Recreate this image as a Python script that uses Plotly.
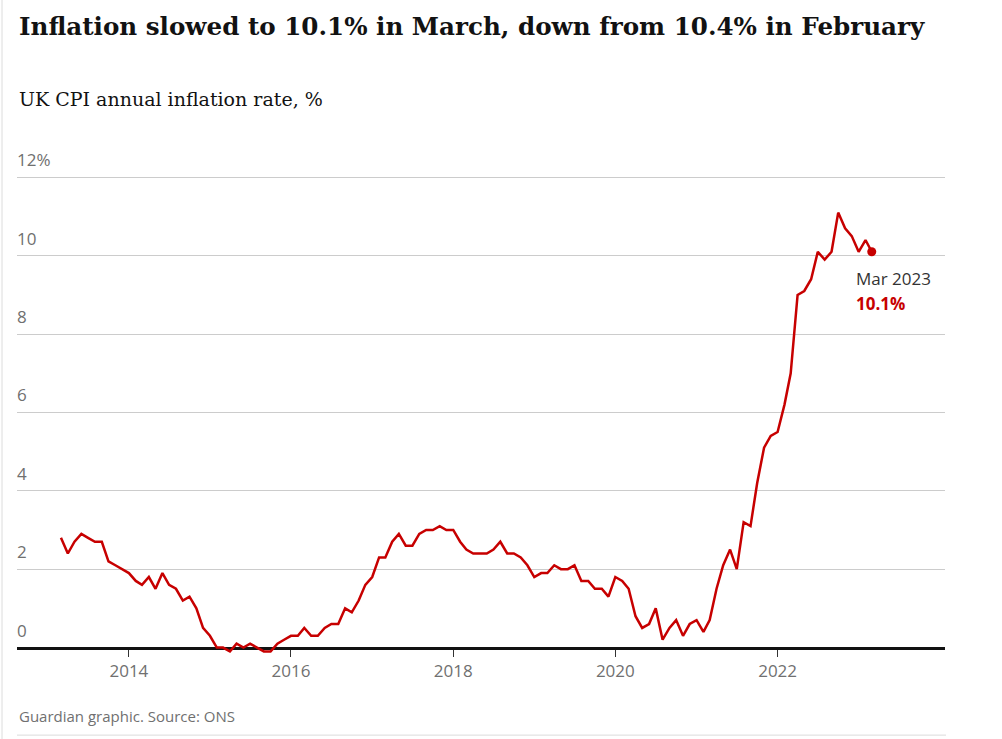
import pandas as pd
import plotly.graph_objects as go

# Monthly UK CPI annual rate, Mar 2013 - Mar 2023
start_month = "2013-03-01"
cpi = [
    2.8, 2.4, 2.7, 2.9, 2.8, 2.7, 2.7, 2.2, 2.1, 2.0,            # 2013 Mar-Dec
    1.9, 1.7, 1.6, 1.8, 1.5, 1.9, 1.6, 1.5, 1.2, 1.3, 1.0, 0.5,  # 2014
    0.3, 0.0, 0.0, -0.1, 0.1, 0.0, 0.1, 0.0, -0.1, -0.1, 0.1, 0.2,  # 2015
    0.3, 0.3, 0.5, 0.3, 0.3, 0.5, 0.6, 0.6, 1.0, 0.9, 1.2, 1.6,  # 2016
    1.8, 2.3, 2.3, 2.7, 2.9, 2.6, 2.6, 2.9, 3.0, 3.0, 3.1, 3.0,  # 2017
    3.0, 2.7, 2.5, 2.4, 2.4, 2.4, 2.5, 2.7, 2.4, 2.4, 2.3, 2.1,  # 2018
    1.8, 1.9, 1.9, 2.1, 2.0, 2.0, 2.1, 1.7, 1.7, 1.5, 1.5, 1.3,  # 2019
    1.8, 1.7, 1.5, 0.8, 0.5, 0.6, 1.0, 0.2, 0.5, 0.7, 0.3, 0.6,  # 2020
    0.7, 0.4, 0.7, 1.5, 2.1, 2.5, 2.0, 3.2, 3.1, 4.2, 5.1, 5.4,  # 2021
    5.5, 6.2, 7.0, 9.0, 9.1, 9.4, 10.1, 9.9, 10.1, 11.1, 10.7, 10.5,  # 2022
    10.1, 10.4, 10.1,                                            # 2023 Jan-Mar
]
dates = pd.date_range(start_month, periods=len(cpi), freq="MS")

y_tickvals = [0, 2, 4, 6, 8, 10, 12]
y_ticktext = ["0", "2", "4", "6", "8", "10", "12%"]
x_tickvals = ["2014-01-01", "2016-01-01", "2018-01-01", "2020-01-01", "2022-01-01"]
x_ticktext = ["2014", "2016", "2018", "2020", "2022"]

title = "Inflation slowed to 10.1% in March, down from 10.4% in February"
subtitle = "UK CPI annual inflation rate, %"
source = "Guardian graphic. Source: ONS"
last_label = "Mar 2023"
last_value = "10.1%"

RED = "#c70000"
GREY = "#707070"
DARK = "#121212"
SANS = "Open Sans"
SERIF_T = "DejaVu Serif"
SERIF = "DejaVu Serif"

W, H = 1002, 739
PX_PER_UNIT = 39.15
ZERO_PX = 647.5
ymax = 12.8
ymin = -0.42
T = ZERO_PX - ymax * PX_PER_UNIT
Bpx = ZERO_PX - ymin * PX_PER_UNIT
L, R = 17, 57
B = H - Bpx
plot_h = Bpx - T
plot_w = W - L - R


def py(p):
    return (Bpx - p) / plot_h


def px(p):
    return (p - L) / plot_w


fig = go.Figure()
fig.add_trace(go.Scatter(
    x=dates, y=cpi, mode="lines",
    line=dict(color=RED, width=2.5),
    hoverinfo="skip", showlegend=False,
))
fig.add_trace(go.Scatter(
    x=[dates[-1]], y=[cpi[-1]], mode="markers",
    marker=dict(color=RED, size=9),
    hoverinfo="skip", showlegend=False,
))

fig.update_layout(
    width=W, height=H,
    margin=dict(l=L, r=R, t=T, b=B, pad=0, autoexpand=False),
    paper_bgcolor="white", plot_bgcolor="white",
    xaxis=dict(
        type="date",
        range=["2012-08-15", "2024-01-25"],
        anchor="free",
        position=(0 - ymin) / (ymax - ymin),
        showline=True, linecolor=DARK, linewidth=3,
        showgrid=False, zeroline=False,
        tickvals=x_tickvals, ticktext=x_ticktext,
        ticks="outside", ticklen=7, tickwidth=1, tickcolor="#333333",
        tickfont=dict(family=SANS, size=17, color=GREY),
        layer="below traces",
    ),
    yaxis=dict(
        range=[ymin, ymax],
        tickvals=y_tickvals, ticktext=y_ticktext,
        showgrid=True, gridcolor="#cccccc", gridwidth=1,
        zeroline=False, showline=False, ticks="",
        ticklabelposition="inside top",
        ticklabelshift=-5, ticklabelstandoff=-3,
        tickfont=dict(family=SANS, size=17, color=GREY),
        layer="below traces",
    ),
)

annotations = [
    dict(text=f"<b>{title}</b>", x=px(17), y=py(27), xref="paper", yref="paper",
         xanchor="left", yanchor="middle", showarrow=False,
         font=dict(family=SERIF_T, size=24.6, color=DARK)),
    dict(text=subtitle, x=px(17), y=py(99), xref="paper", yref="paper",
         xanchor="left", yanchor="middle", showarrow=False,
         font=dict(family=SERIF, size=19, color=DARK)),
    dict(text=source, x=px(17), y=py(716), xref="paper", yref="paper",
         xanchor="left", yanchor="middle", showarrow=False,
         font=dict(family=SANS, size=15, color=GREY)),
    dict(text=last_label, x=dates[-1], y=cpi[-1], xref="x", yref="y",
         xanchor="left", yanchor="middle", xshift=-18, yshift=-27, showarrow=False,
         font=dict(family=SANS, size=17, color="#333333")),
    dict(text=f"<b>{last_value}</b>", x=dates[-1], y=cpi[-1], xref="x", yref="y",
         xanchor="left", yanchor="middle", xshift=-18, yshift=-52, showarrow=False,
         font=dict(family=SANS, size=17, color=RED)),
]
fig.update_layout(annotations=annotations)

fig.add_shape(type="line", xref="paper", yref="paper",
              x0=px(2), x1=px(2), y0=py(0), y1=py(739),
              line=dict(color="#dcdcdc", width=1))
fig.add_shape(type="line", xref="paper", yref="paper",
              x0=px(17), x1=px(946), y0=py(735), y1=py(735),
              line=dict(color="#dcdcdc", width=1))

fig.write_html(
    "out.html",
    config={"displayModeBar": False},
    post_script="document.body.style.margin='0';document.body.style.overflow='hidden';",
)
